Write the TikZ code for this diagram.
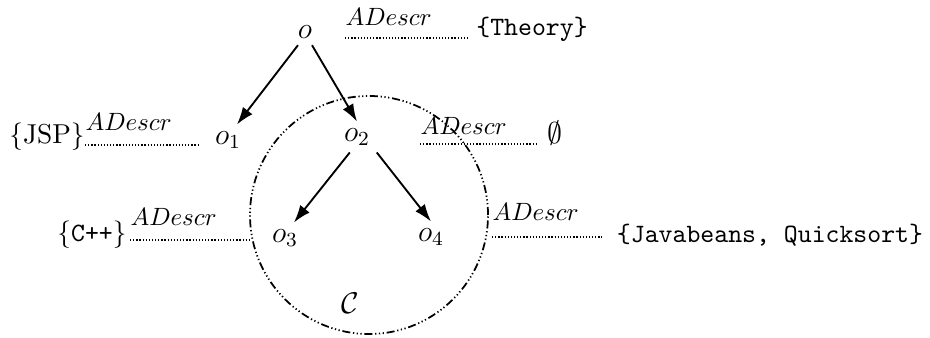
\documentclass[tikz,border=0pt]{standalone}
\usetikzlibrary{arrows.meta}
\begin{document}
\begin{tikzpicture}[x=0.4pt,y=-0.4pt,
  lbl/.style={inner sep=0pt},
  ttl/.style={inner sep=0pt, font=\fontsize{10.6}{12}\selectfont},
  obj/.style={inner sep=2.5pt, font=\large},
  arr/.style={-{Latex[length=7pt,width=4.8pt]}, line width=0.75pt},
  rel/.style={line width=0.7pt, dash pattern=on 0.5pt off 0.75pt},
  circ/.style={draw, circle, inner sep=0pt, minimum size=95.2pt, line width=0.7pt,
    dash pattern=on 3.2pt off 1.1pt on 0.5pt off 1pt on 0.5pt off 1pt on 0.5pt off 1.1pt},
  rlab/.style={inner sep=0pt, anchor=base west, font=\fontsize{9.9}{11}\selectfont}]
\useasboundingbox (0,0) rectangle (930,338);

% catalogue circle
\node[circ] (cat) at (369,215) {};
\node[lbl, font=\large] (C) at (350,303) {$\mathcal{C}$};

% objects
\node[obj] (o)  at (305,32)  {$o$};
\node[obj] (o1) at (228,140) {$o_1$};
\node[obj] (o2) at (357,137) {$o_2$};
\node[obj] (o3) at (285,238) {$o_3$};
\node[obj] (o4) at (431,237) {$o_4$};

% sets
\node[ttl] (theory) at (532,29)  {\texttt{\{Theory\}}};
\node[lbl, font=\fontsize{10.5}{12}\selectfont] (jsp) at (47,137) {$\{\mathrm{JSP}\}$};
\node[lbl, font=\large] (empty)  at (555,133) {$\emptyset$};
\node[ttl] (cpp)    at (92,235)  {$\{$\texttt{C++}$\}$};
\node[ttl] (jq)     at (770,235) {\texttt{\{Javabeans, Quicksort\}}};

% relation line ends
\coordinate (r0s) at (345,38);  \coordinate (r0e) at (470,38);
\coordinate (r1s) at (85,145);  \coordinate (r1e) at (200,145);
\coordinate (r2s) at (420,144); \coordinate (r2e) at (537,144);
\coordinate (r3s) at (130,240); \coordinate (r3e) at (250,240);
\coordinate (r4s) at (492,237); \coordinate (r4e) at (602,237);

\draw[rel] (r0s) -- (r0e);
\draw[rel] (r1s) -- (r1e);
\draw[rel] (r2s) -- (r2e);
\draw[rel] (r3s) -- (r3e);
\draw[rel] (r4s) -- (r4e);

\node[rlab, yshift=4.8pt] (l0) at (r0s) {$ADescr$};
\node[rlab, yshift=5.6pt] (l1) at (r1s) {$ADescr$};
\node[rlab, yshift=3.6pt] (l2) at (r2s) {$ADescr$};
\node[rlab, yshift=5.6pt] (l3) at (r3s) {$ADescr$};
\node[rlab, yshift=6.4pt] (l4) at (r4s) {$ADescr$};

% arrows
\draw[arr] (o.-118) -- (o1.60);
\draw[arr] (o.-62) -- (o2.north);
\draw[arr] (o2.-115) -- (o3.60);
\draw[arr] (o2.south east) -- (o4.north);
\end{tikzpicture}
\end{document}
